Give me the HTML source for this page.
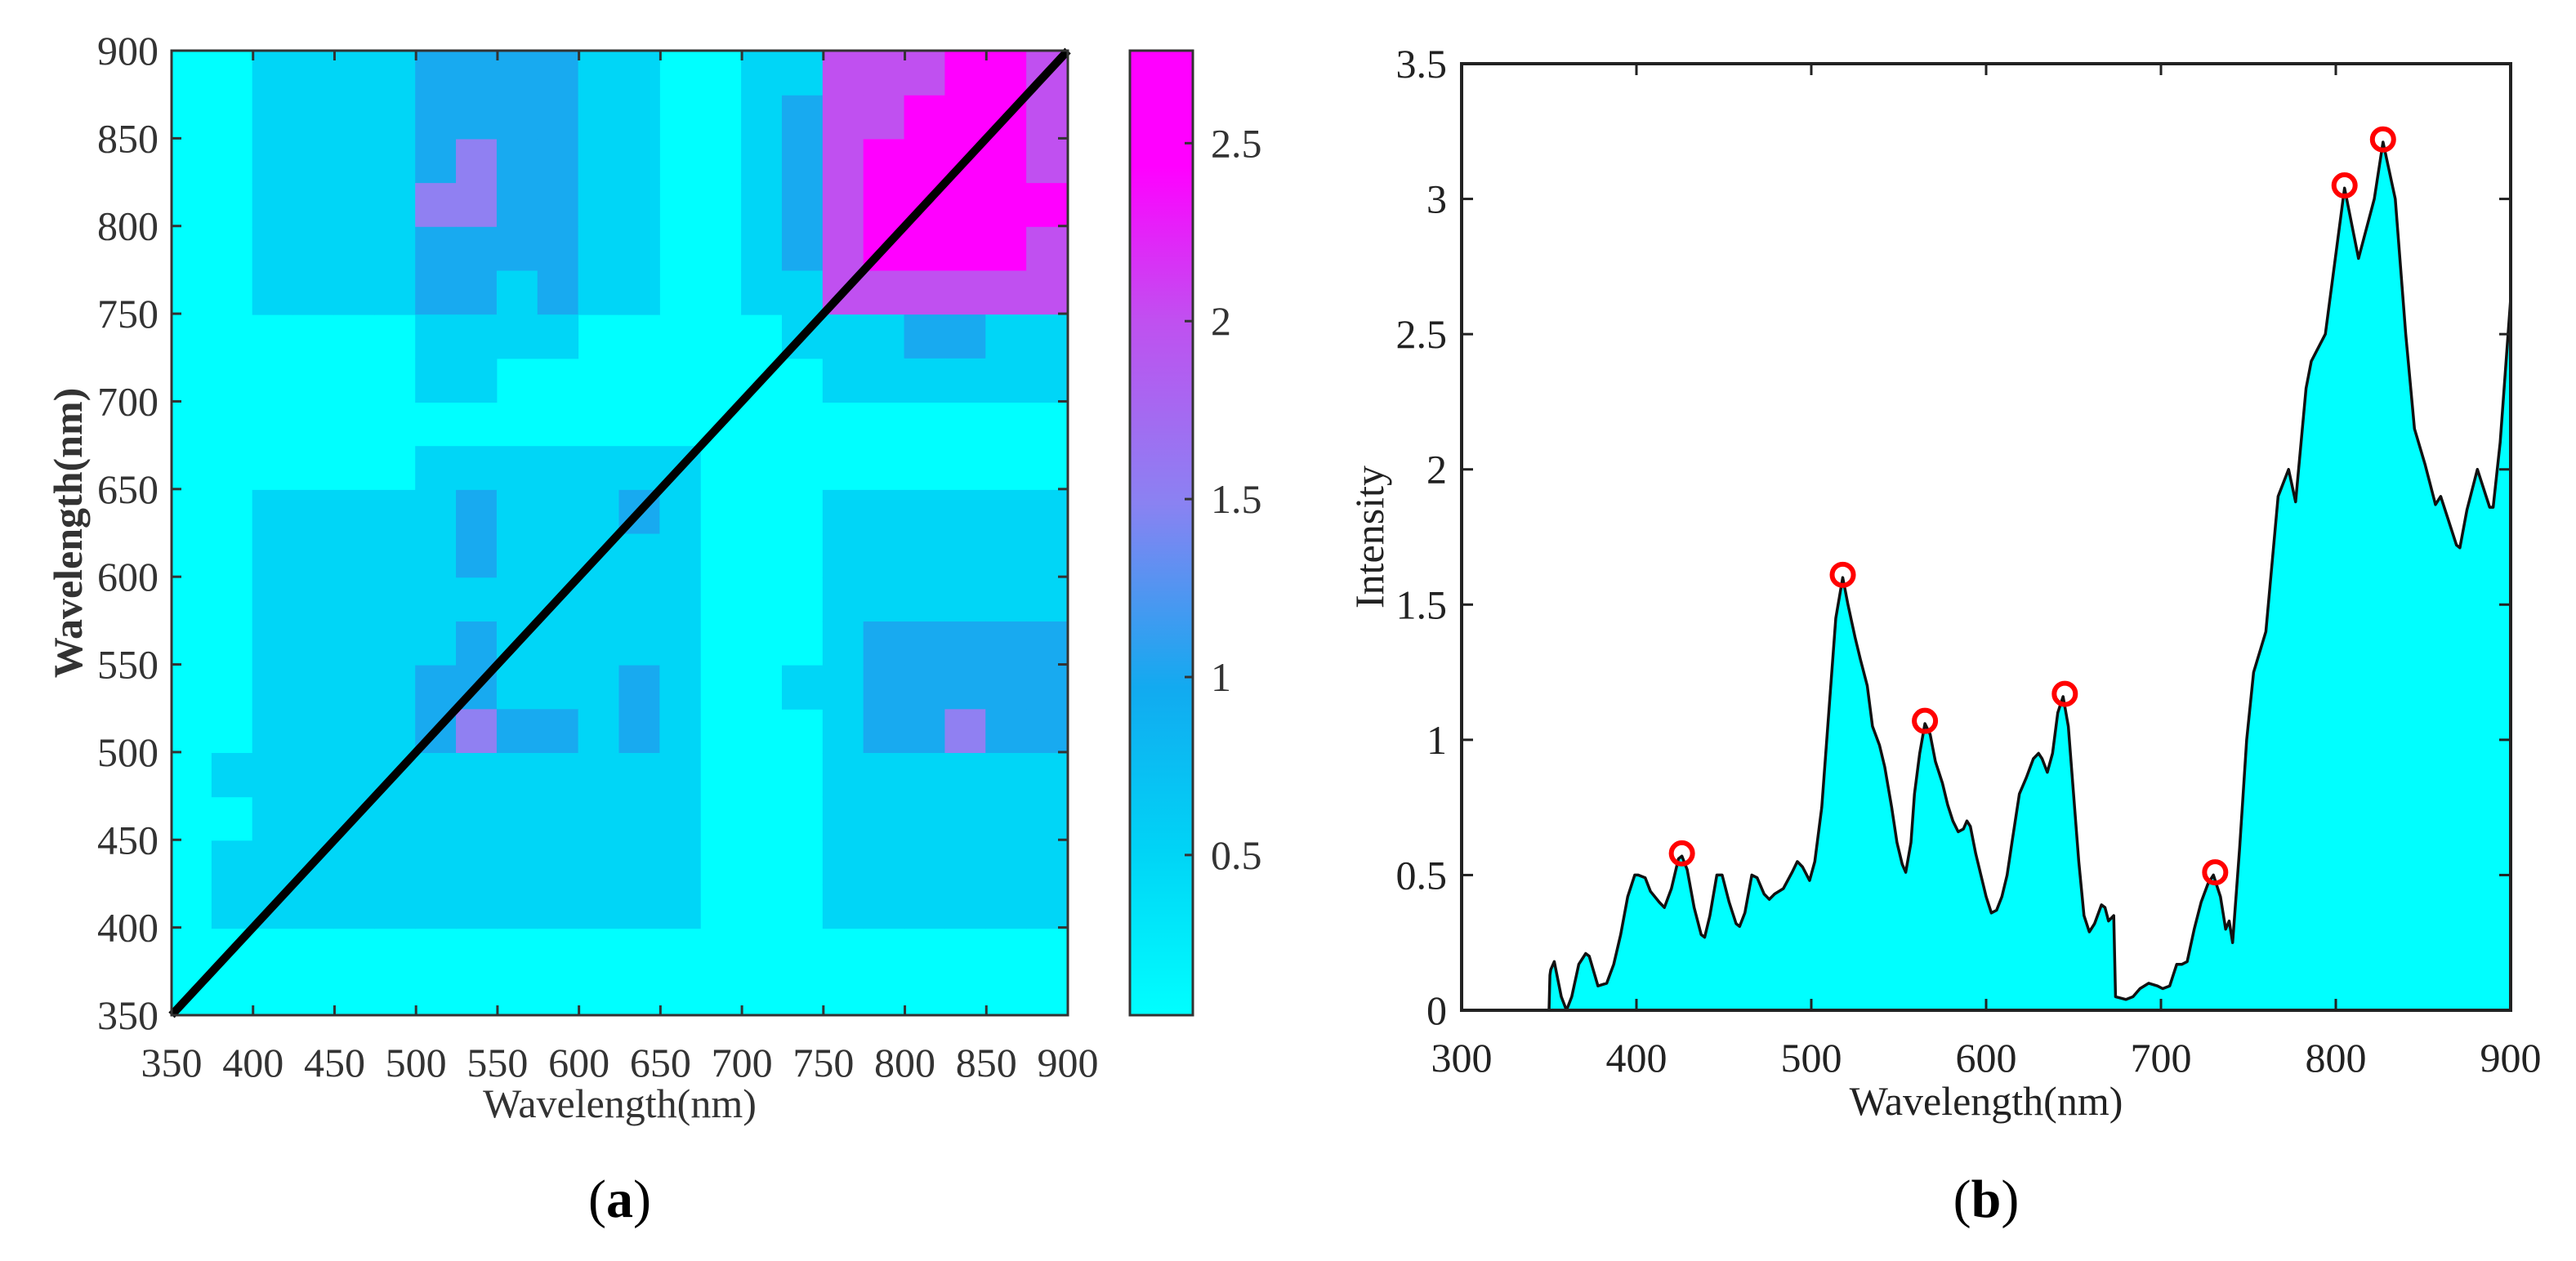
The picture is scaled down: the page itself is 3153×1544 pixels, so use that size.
<!DOCTYPE html>
<html><head><meta charset="utf-8">
<style>
html,body{margin:0;padding:0;background:#fff;}
svg{display:block;font-family:"Liberation Serif",serif;}
</style></head>
<body>
<svg id="fig" width="3153" height="1544" viewBox="0 0 3153 1544" xmlns="http://www.w3.org/2000/svg"></svg>
<script>
// ---------- Panel (a) data: contour levels on 25 nm grid ----------
const gridX = [362,387,412,437,462,487,512,537,562,587,612,637,662,687,712,737,762,787,812,837,862,887];
const gridYTopDown = [887,862,837,812,787,762,737,712,687,662,637,612,587,562,537,512,487,462,437,412,387,362];
const levelRows = [
"0011112222110011444554",
"0011112222110012445554",
"0011112322110012455554",
"0011113322110012455555",
"0011112222110012455554",
"0011112212110011444444",
"0000001111000001112211",
"0000001100000000111111",
"0000000000000000000000",
"0000001111111000000000",
"0011111211121000111111",
"0011111211111000111111",
"0011111111111000111111",
"0011111211111000122222",
"0011112211121001122222",
"0011112322121000122322",
"0111111111111000111111",
"0011111111111000111111",
"0111111111111000111111",
"0111111111111000111111",
"0000000000000000000000",
"0000000000000000000000"
];
const levelColors = ["#00ffff","#00d6f7","#18aaf0","#9080f2","#c050f0","#ff00ff"];
const cbTicks = [0.5,1,1.5,2,2.5];
const axisTicksA = [350,400,450,500,550,600,650,700,750,800,850,900];

// ---------- Panel (b) data ----------
const specX = [350,350.5,351,353,357,360,363,367,371,373,378,383,387,391,395,399,401,405,408,413,416,420,424,426,429,433,437,439,442,446,449,453,457,459,462,466,469,473,476,479,484,489,492,495,499,502,506,510,514,518,521,525,528,532,535,539,542,546,549,552,554,557,559,562,565,568,571,575,578,581,584,587,589,591,594,597,600,603,606,609,612,615,619,623,627,630,632,635,638,641,644,647,650,653,656,659,662,666,668,670,673,674,680,684,688,693,698,701,705,709,712,715,719,723,727,730,734,737,739,741,745,749,753,760,767,773,777,783,786,794,805,813,822,827,834,840,845,851,857,860,864,869,871,875,881,888,890,894,900];
const specY = [0,0.13,0.15,0.18,0.05,0.0,0.05,0.17,0.21,0.2,0.09,0.1,0.17,0.28,0.42,0.5,0.5,0.49,0.44,0.4,0.38,0.45,0.56,0.57,0.52,0.38,0.28,0.27,0.35,0.5,0.5,0.4,0.32,0.31,0.36,0.5,0.49,0.43,0.41,0.43,0.45,0.51,0.55,0.53,0.48,0.55,0.75,1.1,1.45,1.6,1.5,1.38,1.3,1.2,1.05,0.98,0.9,0.75,0.62,0.54,0.51,0.62,0.8,0.95,1.06,1.02,0.92,0.84,0.76,0.7,0.66,0.67,0.7,0.68,0.58,0.5,0.42,0.36,0.37,0.42,0.5,0.63,0.8,0.86,0.93,0.95,0.93,0.88,0.95,1.1,1.16,1.05,0.8,0.55,0.35,0.29,0.32,0.39,0.38,0.33,0.35,0.05,0.04,0.05,0.08,0.1,0.09,0.08,0.09,0.17,0.17,0.18,0.3,0.4,0.47,0.5,0.42,0.3,0.33,0.25,0.6,1.0,1.25,1.4,1.9,2.0,1.88,2.3,2.4,2.5,3.04,2.78,3.0,3.21,3.0,2.5,2.15,2.02,1.87,1.9,1.82,1.72,1.71,1.85,2.0,1.86,1.86,2.1,2.63];
const peakX = [426,518,565,645,731,805,827];
const peakY = [0.58,1.61,1.07,1.17,0.51,3.05,3.22];
const ticksBX = [300,400,500,600,700,800,900];
const ticksBY = [0,0.5,1,1.5,2,2.5,3,3.5];

const NS = "http://www.w3.org/2000/svg";
const svg = document.getElementById('fig');
function mk(tag, attrs, parent){ const e=document.createElementNS(NS,tag); for(const k in attrs) e.setAttribute(k,attrs[k]); (parent||svg).appendChild(e); return e; }

// ---------- Panel (a) ----------
const A = {l:210, r:1307, t:62, b:1243};
const ax = v => A.l + (v-350)/(550)*(A.r-A.l);
const ay = v => A.b - (v-350)/(550)*(A.b-A.t);
const gA = mk('g',{});


mk('rect',{x:A.l,y:A.t,width:A.r-A.l,height:A.b-A.t,fill:levelColors[0]},gA);
levelRows.forEach((row,ri)=>{
  for(let ci=0; ci<row.length; ci++){
    const lv = +row[ci];
    if(lv===0) continue;
    const x0=ax(gridX[ci]-12.5), x1=ax(gridX[ci]+12.5);
    const y0=ay(gridYTopDown[ri]+12.5), y1=ay(gridYTopDown[ri]-12.5);
    const c = mk('rect',{x:x0,y:y0,width:x1-x0+0.5,height:y1-y0+0.5,fill:levelColors[lv]},gA);
    
    
  }
});
mk('rect',{x:A.l,y:A.t,width:A.r-A.l,height:A.b-A.t,fill:'none',stroke:'#333',"stroke-width":3},gA);
const diag = mk('line',{x1:ax(350),y1:ay(350),x2:ax(900),y2:ay(900),stroke:'#000',"stroke-width":10},gA);


axisTicksA.forEach(v=>{
  mk('line',{x1:ax(v),y1:A.b,x2:ax(v),y2:A.b-12,stroke:'#333',"stroke-width":3},gA);
  mk('line',{x1:ax(v),y1:A.t,x2:ax(v),y2:A.t+12,stroke:'#333',"stroke-width":3},gA);
  mk('line',{x1:A.l,y1:ay(v),x2:A.l+12,y2:ay(v),stroke:'#333',"stroke-width":3},gA);
  mk('line',{x1:A.r,y1:ay(v),x2:A.r-12,y2:ay(v),stroke:'#333',"stroke-width":3},gA);
  const tx = mk('text',{x:ax(v),y:A.b+75,"font-size":50,"text-anchor":"middle",fill:'#333'},gA);
  tx.textContent=v;
  
  
  const ty = mk('text',{x:A.l-16,y:ay(v)+17,"font-size":50,"text-anchor":"end",fill:'#333'},gA);
  ty.textContent=v;
  
  
});
// colorbar
const CB = {l:1383,r:1460,t:62,b:1243,min:0.05,max:2.76};
const cy = v => CB.b - (v-CB.min)/(CB.max-CB.min)*(CB.b-CB.t);
const defs = mk('defs',{});
const lg = mk('linearGradient',{id:'cbg',x1:0,y1:1,x2:0,y2:0},defs);
[[0,'#00ffff'],[0.17,'#00d4f6'],[0.34,'#12aaf0'],[0.53,'#8a82f2'],[0.72,'#c050f0'],[0.88,'#ff00ff'],[1,'#ff00ff']].forEach(s=>mk('stop',{offset:s[0],"stop-color":s[1]},lg));
const cb = mk('rect',{x:CB.l,y:CB.t,width:CB.r-CB.l,height:CB.b-CB.t,fill:'url(#cbg)',stroke:'#333',"stroke-width":3});


cbTicks.forEach(v=>{
  mk('line',{x1:CB.r,y1:cy(v),x2:CB.r-10,y2:cy(v),stroke:'#333',"stroke-width":3});
  const t = mk('text',{x:CB.r+22,y:cy(v)+17,"font-size":50,fill:'#333'});
  t.textContent=v;
  
  
});
let t;
t = mk('text',{x:(A.l+A.r)/2,y:1368,"font-size":50,"text-anchor":"middle",fill:'#333'});
t.textContent='Wavelength(nm)';


t = mk('text',{x:0,y:0,"font-size":50,"text-anchor":"middle",fill:'#333',"font-weight":"bold",transform:`translate(100,${(A.t+A.b)/2}) rotate(-90)`});
t.textContent='Wavelength(nm)';


t = mk('text',{x:(A.l+A.r)/2,y:1490,"font-size":66,"text-anchor":"middle",fill:'#000'});
t.innerHTML='(<tspan font-weight="bold">a</tspan>)';



// ---------- Panel (b) ----------
const B = {l:1789, r:3073, t:78, b:1237};
const bx = v => B.l + (v-300)/600*(B.r-B.l);
const by = v => B.b - v/3.5*(B.b-B.t);
const gB = mk('g',{});


let d = `M${bx(specX[0])},${by(0)}`;
specX.forEach((x,i)=>{ d+=` L${bx(x).toFixed(1)},${by(specY[i]).toFixed(1)}`; });
const area = mk('path',{d:d+` L${bx(900)},${by(0)} Z`,fill:'#00ffff',stroke:'none'},gB);


const line = mk('path',{d:d.replace(/^M[^L]*L/,'M'),fill:'none',stroke:'#111',"stroke-width":3.5,"stroke-linejoin":"round"},gB);


peakX.forEach((x,i)=>{
  const c = mk('circle',{cx:bx(x),cy:by(peakY[i]),r:13,fill:'none',stroke:'#ff0000',"stroke-width":6},gB);
  
  
});
mk('rect',{x:B.l,y:B.t,width:B.r-B.l,height:B.b-B.t,fill:'none',stroke:'#222',"stroke-width":4},gB);
ticksBX.forEach(v=>{
  mk('line',{x1:bx(v),y1:B.b,x2:bx(v),y2:B.b-14,stroke:'#222',"stroke-width":3},gB);
  mk('line',{x1:bx(v),y1:B.t,x2:bx(v),y2:B.t+14,stroke:'#222',"stroke-width":3},gB);
  const tx = mk('text',{x:bx(v),y:B.b+75,"font-size":50,"text-anchor":"middle",fill:'#222'},gB);
  tx.textContent=v;
  
  
});
ticksBY.forEach(v=>{
  mk('line',{x1:B.l,y1:by(v),x2:B.l+14,y2:by(v),stroke:'#222',"stroke-width":3},gB);
  mk('line',{x1:B.r,y1:by(v),x2:B.r-14,y2:by(v),stroke:'#222',"stroke-width":3},gB);
  const ty = mk('text',{x:B.l-18,y:by(v)+17,"font-size":50,"text-anchor":"end",fill:'#222'},gB);
  ty.textContent=v;
  
  
});
t = mk('text',{x:(B.l+B.r)/2,y:1365,"font-size":50,"text-anchor":"middle",fill:'#222'});
t.textContent='Wavelength(nm)';


t = mk('text',{x:0,y:0,"font-size":50,"text-anchor":"middle",fill:'#222',transform:`translate(1693,${(B.t+B.b)/2}) rotate(-90)`});
t.textContent='Intensity';


t = mk('text',{x:(B.l+B.r)/2,y:1490,"font-size":66,"text-anchor":"middle",fill:'#000'});
t.innerHTML='(<tspan font-weight="bold">b</tspan>)';


</script>
</body></html>
